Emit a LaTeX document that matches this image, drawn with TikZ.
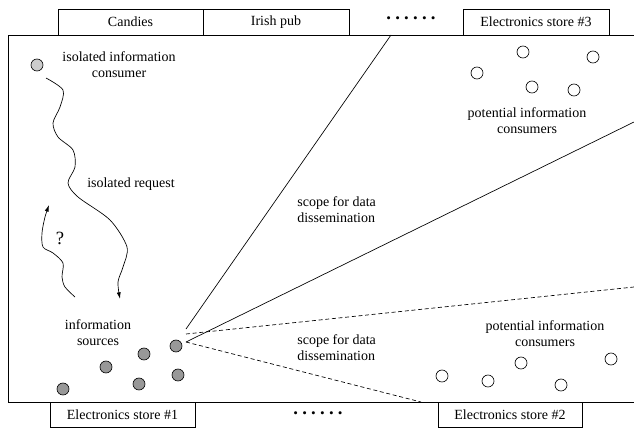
\documentclass[tikz,border=0pt]{standalone}
\usepackage{fontspec}
\setmainfont{Liberation Serif}
\usetikzlibrary{arrows.meta}

\tikzset{
  shop/.style={draw, line width=0.5pt, minimum height=19.5pt, inner sep=0pt},
  lbl/.style={align=center, inner sep=0pt},
  dotrow/.style={inner sep=0pt, font=\fontsize{14}{16}\selectfont\bfseries},
  source/.style={circle, draw, fill=gray!85!black!70, minimum size=9pt, inner sep=0pt},
  lone/.style={circle, draw, fill=gray!40, minimum size=9pt, inner sep=0pt},
  potential/.style={circle, draw, fill=white, minimum size=9pt, inner sep=0pt},
  wave/.style={line width=0.5pt, smooth, -{Latex[length=5pt, width=3pt]}},
}

\begin{document}
\begin{tikzpicture}[x=0.75pt, y=-0.75pt, font=\fontsize{10.5}{12}\selectfont, line width=0.5pt]
    \useasboundingbox (0, 0) rectangle (634, 428);
    % street frame
    \draw (634, 35) -- (8, 35) -- (8, 402) -- (634, 402);

    % shops
    \node[shop, minimum width=108.75pt] (candies) at (130.5, 22) {Candies};
    \node[shop, minimum width=109.5pt] (pub) at (276, 22) {Irish pub};
    \node[dotrow] (dotstop) at (411, 18) {.\hspace{3.2pt}.\hspace{3.2pt}.\hspace{3.2pt}.\hspace{3.2pt}.\hspace{3.2pt}.};
    \node[shop, minimum width=109.5pt] (store3) at (536, 22) {Electronics store \#3};
    \node[shop, minimum width=108.75pt, minimum height=18.75pt] (store1) at (122.5, 414.5) {Electronics store \#1};
    \node[dotrow] (dotsbot) at (318, 413) {.\hspace{3.2pt}.\hspace{3.2pt}.\hspace{3.2pt}.\hspace{3.2pt}.\hspace{3.2pt}.};
    \node[shop, minimum width=108pt, minimum height=18.75pt] (store2) at (510, 414.5) {Electronics store \#2};

    % isolated consumer
    \node[lone] (iso) at (37, 65) {};
    \node[lbl] (isolbl) at (119, 65) {isolated information\\consumer};

    % information sources
    \node[source] (s1) at (176, 346) {};
    \node[source] (s2) at (144, 354) {};
    \node[source] (s3) at (106, 367) {};
    \node[source] (s4) at (178, 375) {};
    \node[source] (s5) at (139, 384) {};
    \node[source] (s6) at (63, 389) {};
    \node[lbl] (srclbl) at (98, 333) {information\\sources};

    % potential consumers (top)
    \node[potential] (p1) at (477, 73) {};
    \node[potential] (p2) at (523, 52) {};
    \node[potential] (p3) at (593, 57) {};
    \node[potential] (p4) at (532, 87) {};
    \node[potential] (p5) at (574, 90) {};
    \node[lbl] (toplbl) at (527, 121) {potential information\\consumers};

    % potential consumers (bottom)
    \node[potential] (q1) at (442, 376) {};
    \node[potential] (q2) at (488, 381) {};
    \node[potential] (q3) at (521, 363) {};
    \node[potential] (q4) at (561, 385) {};
    \node[potential] (q5) at (611, 359) {};
    \node[lbl] (botlbl) at (545, 334) {potential information\\consumers};

    % scopes
    \coordinate (a1) at (186, 329);
    \coordinate (a2) at (186, 334);
    \coordinate (a3) at (186, 342);
    \coordinate (b1) at (391, 35);
    \coordinate (b2) at (634, 122);
    \coordinate (b3) at (634, 287);
    \coordinate (b4) at (421, 402);
    \draw (a1) -- (b1);
    \draw (a3) -- (b2);
    \draw[dash pattern=on 3pt off 2pt] (a2) -- (b3);
    \draw[dash pattern=on 3pt off 2pt] (a3) -- (b4);
    \node[lbl, align=left, anchor=west] (scope1) at (297, 210) {scope for data\\dissemination};
    \node[lbl, align=left, anchor=west] (scope2) at (297, 348) {scope for data\\dissemination};

    % requests
    \draw[wave] plot coordinates {(46, 78) (63, 90) (60, 107) (53, 123) (58, 137) (73, 150) (75, 167) (68, 183) (78, 197) (110, 220) (127, 247) (123, 267) (118, 282) (120, 299)};
    \node[lbl] (reqlbl) at (131, 184) {isolated request};
    \draw[wave] plot coordinates {(75, 297) (65, 287) (62, 277) (63, 263) (53, 253) (43, 247) (42, 233) (45, 217) (49, 205)};
    \node[lbl, font=\fontsize{14}{16}\selectfont] (qmark) at (60, 238) {?};
\end{tikzpicture}
\end{document}
